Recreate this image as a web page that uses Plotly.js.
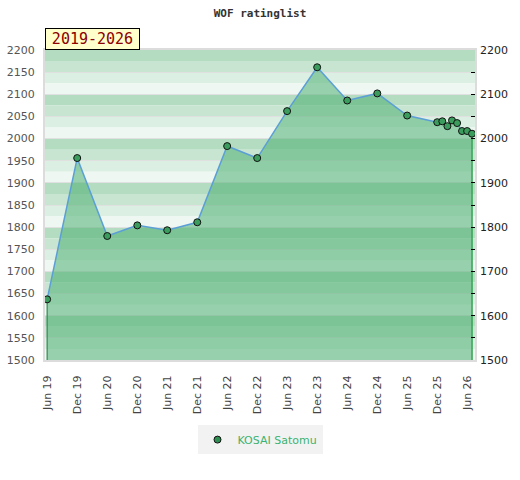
<!DOCTYPE html>
<html>
<head>
<meta charset="utf-8">
<script src="https://cdn.plot.ly/plotly-3.0.1.min.js"></script>
<style>html,body{margin:0;padding:0;background:#fff;}#chart{width:520px;height:480px;}</style>
</head>
<body>
<div id="chart"></div>
<script>
// ---- data ----
const playerName = "KOSAI Satomu";
const periodLabel = "2019-2026";
const chartTitle = "WOF ratinglist";
const listDates = ["2019-06-01","2019-12-01","2020-06-01","2020-12-01","2021-06-01","2021-12-01",
  "2022-06-01","2022-12-01","2023-06-01","2023-12-01","2024-06-01","2024-12-01","2025-06-01",
  "2025-12-01","2026-01-01","2026-02-01","2026-03-01","2026-04-01","2026-05-01","2026-06-01","2026-07-01"];
const ratings = [1637,1956,1780,1804,1793,1811,1983,1956,2062,2161,2086,2102,2052,
  2037,2039,2028,2041,2035,2017,2017,2011];
const tickDates = ["2019-06-01","2019-12-01","2020-06-01","2020-12-01","2021-06-01","2021-12-01",
  "2022-06-01","2022-12-01","2023-06-01","2023-12-01","2024-06-01","2024-12-01","2025-06-01",
  "2025-12-01","2026-06-01"];
const tickLabels = ["Jun 19","Dec 19","Jun 20","Dec 20","Jun 21","Dec 21","Jun 22","Dec 22",
  "Jun 23","Dec 23","Jun 24","Dec 24","Jun 25","Dec 25","Jun 26"];
const yMin = 1500, yMax = 2200;

// ---- styling ----
const bandColors = ["#b3dcc1", "#c7e5d1", "#dbefe2", "#eef7f1"];
const bandStep = 25;
const shapes = [];
for (let u = yMax, k = 0; u > yMin; u -= bandStep, k++) {
  shapes.push({type: "rect", xref: "paper", yref: "y", x0: 0, x1: 1, y0: u - bandStep, y1: u,
    fillcolor: bandColors[k % 4], line: {width: 0}, layer: "below"});
}
const edgeGreen = "#34a555";
const n = ratings.length;

const traces = [
  {x: listDates, y: ratings, type: "scatter", mode: "lines", fill: "tozeroy",
   fillcolor: "rgba(78,176,114,0.55)", line: {color: "#5b9fd6", width: 1.5},
   showlegend: false, hoverinfo: "skip"},
  {x: [listDates[0], listDates[0]], y: [ratings[0], yMin], type: "scatter", mode: "lines",
   line: {color: "#2e8b50", width: 1.2}, showlegend: false, hoverinfo: "skip"},
  {x: [listDates[n-1], listDates[n-1]], y: [ratings[n-1], yMin], type: "scatter", mode: "lines",
   line: {color: edgeGreen, width: 1.5}, showlegend: false, hoverinfo: "skip"},
  {x: listDates, y: ratings, type: "scatter", mode: "markers", name: playerName,
   marker: {color: "#3a9d5d", size: 7, line: {color: "#111", width: 1}}, showlegend: false},
  {x: [null], y: [null], type: "scatter", mode: "markers", name: playerName, yaxis: "y2",
   marker: {color: "#2f8f52", size: 7, line: {color: "#111", width: 1}}, showlegend: true}
];

const layout = {
  width: 520, height: 480,
  margin: {l: 45, r: 45, t: 50, b: 120},
  paper_bgcolor: "#fff", plot_bgcolor: "#fff",
  title: {text: chartTitle, x: 0.5, xanchor: "center", yref: "container", y: 0.973, yanchor: "middle",
    font: {family: "DejaVu Sans Mono", size: 11, color: "#333", weight: "bold"}},
  shapes: shapes,
  xaxis: {type: "date", range: ["2019-05-19", "2026-07-19"], tickvals: tickDates, ticktext: tickLabels,
    tickangle: -90, tickfont: {family: "DejaVu Sans", size: 11, color: "#444"},
    showgrid: false, zeroline: false, showline: true, linecolor: "#dcdcdc", linewidth: 2, mirror: true,
    ticks: "", ticklabelstandoff: 9, fixedrange: true},
  yaxis: {range: [yMin, yMax], dtick: 50, tick0: 1500, showgrid: true, gridcolor: "#e0e0e0", gridwidth: 1,
    zeroline: false, showline: true, linecolor: "#dcdcdc", linewidth: 2, mirror: true, ticks: "",
    tickfont: {family: "DejaVu Sans", size: 11, color: "#555"}, ticklabelstandoff: 6},
  yaxis2: {range: [yMin, yMax], overlaying: "y", side: "right", dtick: 100, tick0: 1500,
    showgrid: false, zeroline: false, showline: false, ticks: "inside", ticklen: 4, tickcolor: "#000",
    minor: {dtick: 50, ticks: "inside", ticklen: 4, tickcolor: "#000", showgrid: false},
    tickfont: {family: "DejaVu Sans", size: 11, color: "#222"}, ticklabelstandoff: 4},
  showlegend: true,
  legend: {orientation: "h", x: 0.5, xanchor: "center", y: -0.21, yanchor: "top", itemwidth: 30,
    bgcolor: "#f2f2f2", font: {family: "DejaVu Sans", size: 11, color: "#3cb371"}},
  annotations: [{text: periodLabel, xref: "paper", yref: "paper", x: 0, y: 1, xanchor: "left", yanchor: "bottom",
    showarrow: false, bgcolor: "#ffffcc", bordercolor: "#000", borderwidth: 1, borderpad: 1,
    width: 91, height: 18, font: {family: "DejaVu Sans Mono", size: 15, color: "#8b0000"}}]
};

Plotly.newPlot("chart", traces, layout, {displayModeBar: false, staticPlot: true});
</script>
</body>
</html>
